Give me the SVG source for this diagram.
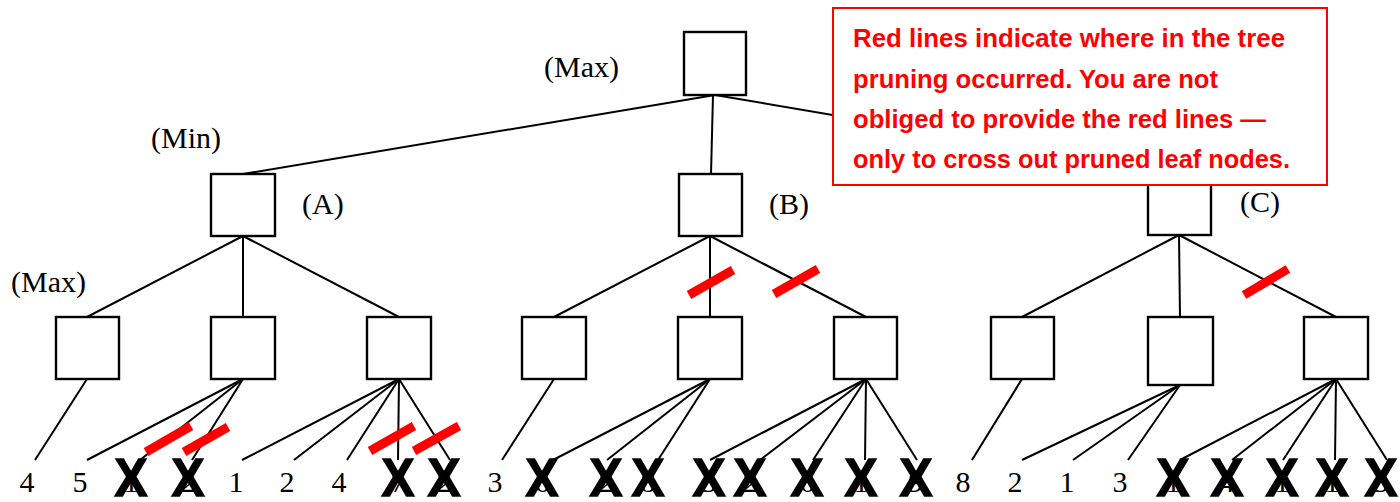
<svg xmlns="http://www.w3.org/2000/svg" width="1400" height="502" viewBox="0 0 1400 502">
<style>
.box{fill:#fff;stroke:#000;stroke-width:2.4}
.ln{stroke:#000;stroke-width:2;fill:none}
.lbl{font-family:"Liberation Serif","Times New Roman",serif;font-size:30px;fill:#000}
.leaf{font-family:"Liberation Serif","Times New Roman",serif;font-size:30px;fill:#000;text-anchor:middle}
.x{font-family:"Liberation Sans",Arial,sans-serif;font-weight:bold;font-size:54px;fill:#000;stroke:#000;stroke-width:1.5;text-anchor:middle}
.cut{stroke:#ff0000;stroke-width:9;stroke-linecap:butt}
.note{font-family:"Liberation Sans",Arial,sans-serif;font-weight:bold;font-size:25.5px;fill:#ff0000}
</style>
<rect width="1400" height="502" fill="#fff"/>
<g id="connectors" class="ln">
<line x1="715" y1="95" x2="243" y2="174"/>
<line x1="713" y1="95" x2="711" y2="174"/>
<line x1="715" y1="95" x2="1179" y2="174"/>
<line x1="243" y1="236" x2="87" y2="317"/>
<line x1="243" y1="236" x2="243" y2="317"/>
<line x1="243" y1="236" x2="399" y2="317"/>
<line x1="710" y1="236" x2="554" y2="317"/>
<line x1="710" y1="236" x2="710" y2="317"/>
<line x1="710" y1="236" x2="866" y2="317"/>
<line x1="1179" y1="235" x2="1022" y2="317"/>
<line x1="1179" y1="235" x2="1180" y2="317"/>
<line x1="1179" y1="235" x2="1336" y2="317"/>
<line x1="87" y1="379" x2="35" y2="460"/>
<line x1="243" y1="379" x2="87" y2="460"/>
<line x1="243" y1="379" x2="140" y2="460"/>
<line x1="243" y1="379" x2="192" y2="460"/>
<line x1="399" y1="379" x2="242" y2="460"/>
<line x1="399" y1="379" x2="294" y2="460"/>
<line x1="399" y1="379" x2="347" y2="460"/>
<line x1="399" y1="379" x2="398" y2="460"/>
<line x1="399" y1="379" x2="450" y2="460"/>
<line x1="554" y1="379" x2="502" y2="460"/>
<line x1="710" y1="379" x2="553" y2="460"/>
<line x1="710" y1="379" x2="607" y2="460"/>
<line x1="710" y1="379" x2="658" y2="460"/>
<line x1="866" y1="379" x2="710" y2="460"/>
<line x1="866" y1="379" x2="760" y2="460"/>
<line x1="866" y1="379" x2="813" y2="460"/>
<line x1="866" y1="379" x2="865" y2="460"/>
<line x1="866" y1="379" x2="917" y2="460"/>
<line x1="1022" y1="379" x2="972" y2="460"/>
<line x1="1180" y1="385" x2="1022" y2="460"/>
<line x1="1180" y1="385" x2="1073" y2="460"/>
<line x1="1180" y1="385" x2="1128" y2="460"/>
<line x1="1336" y1="379" x2="1180" y2="460"/>
<line x1="1336" y1="379" x2="1232" y2="460"/>
<line x1="1336" y1="379" x2="1283" y2="460"/>
<line x1="1336" y1="379" x2="1335" y2="460"/>
<line x1="1336" y1="379" x2="1387" y2="460"/>
</g>
<g id="root"><rect class="box" x="684" y="32" width="62" height="63"/><text class="lbl" x="544" y="77">(Max)</text></g>
<g id="nodeA"><rect class="box" x="211" y="174" width="64" height="62"/><text class="lbl" x="302" y="214">(A)</text><text class="lbl" x="151" y="148">(Min)</text></g>
<g id="nodeB"><rect class="box" x="679" y="174" width="63" height="62"/><text class="lbl" x="769" y="214">(B)</text></g>
<g id="nodeC"><rect class="box" x="1148" y="174" width="63" height="61"/><text class="lbl" x="1240" y="212">(C)</text></g>
<text class="lbl" x="11" y="292">(Max)</text>
<g id="nodeA1"><rect class="box" x="56" y="317" width="63" height="62"/></g>
<g id="nodeA2"><rect class="box" x="211" y="317" width="64" height="62"/></g>
<g id="nodeA3"><rect class="box" x="367" y="317" width="64" height="62"/></g>
<g id="nodeB1"><rect class="box" x="522" y="317" width="64" height="62"/></g>
<g id="nodeB2"><rect class="box" x="678" y="317" width="64" height="62"/></g>
<g id="nodeB3"><rect class="box" x="834" y="317" width="63" height="62"/></g>
<g id="nodeC1"><rect class="box" x="991" y="317" width="63" height="62"/></g>
<g id="nodeC2"><rect class="box" x="1148" y="317" width="65" height="68"/></g>
<g id="nodeC3"><rect class="box" x="1304" y="317" width="64" height="62"/></g>
<g id="leaves">
<text class="leaf" x="27" y="492">4</text>
<text class="leaf" x="80" y="492">5</text>
<text class="leaf" x="131" y="492">1</text>
<text class="leaf" x="188" y="492">2</text>
<text class="leaf" x="236" y="492">1</text>
<text class="leaf" x="287" y="492">2</text>
<text class="leaf" x="339" y="492">4</text>
<text class="leaf" x="398" y="492">7</text>
<text class="leaf" x="444" y="492">2</text>
<text class="leaf" x="495" y="492">3</text>
<text class="leaf" x="542" y="492">6</text>
<text class="leaf" x="606" y="492">2</text>
<text class="leaf" x="648" y="492">8</text>
<text class="leaf" x="709" y="492">5</text>
<text class="leaf" x="750" y="492">2</text>
<text class="leaf" x="807" y="492">6</text>
<text class="leaf" x="861" y="492">1</text>
<text class="leaf" x="916" y="492">9</text>
<text class="leaf" x="963" y="492">8</text>
<text class="leaf" x="1015" y="492">2</text>
<text class="leaf" x="1067" y="492">1</text>
<text class="leaf" x="1120" y="492">3</text>
<text class="leaf" x="1173" y="492">1</text>
<text class="leaf" x="1227" y="492">4</text>
<text class="leaf" x="1282" y="492">1</text>
<text class="leaf" x="1332" y="492">1</text>
<text class="leaf" x="1381" y="492">5</text>
</g>
<g id="cuts">
<line class="cut" x1="146" y1="452" x2="191" y2="426"/>
<line class="cut" x1="184" y1="452" x2="228" y2="427"/>
<line class="cut" x1="370" y1="451" x2="414" y2="426"/>
<line class="cut" x1="414" y1="451" x2="459" y2="426"/>
<line class="cut" x1="689" y1="295" x2="733" y2="270"/>
<line class="cut" x1="774" y1="294" x2="818" y2="269"/>
<line class="cut" x1="1244" y1="295" x2="1288" y2="269"/>
</g>
<g id="prunemarks">
<text class="x" x="131" y="496" textLength="33" lengthAdjust="spacingAndGlyphs">X</text>
<text class="x" x="188" y="496" textLength="33" lengthAdjust="spacingAndGlyphs">X</text>
<text class="x" x="398" y="496" textLength="33" lengthAdjust="spacingAndGlyphs">X</text>
<text class="x" x="444" y="496" textLength="33" lengthAdjust="spacingAndGlyphs">X</text>
<text class="x" x="542" y="496" textLength="33" lengthAdjust="spacingAndGlyphs">X</text>
<text class="x" x="606" y="496" textLength="33" lengthAdjust="spacingAndGlyphs">X</text>
<text class="x" x="648" y="496" textLength="33" lengthAdjust="spacingAndGlyphs">X</text>
<text class="x" x="709" y="496" textLength="33" lengthAdjust="spacingAndGlyphs">X</text>
<text class="x" x="750" y="496" textLength="33" lengthAdjust="spacingAndGlyphs">X</text>
<text class="x" x="807" y="496" textLength="33" lengthAdjust="spacingAndGlyphs">X</text>
<text class="x" x="861" y="496" textLength="33" lengthAdjust="spacingAndGlyphs">X</text>
<text class="x" x="916" y="496" textLength="33" lengthAdjust="spacingAndGlyphs">X</text>
<text class="x" x="1173" y="496" textLength="33" lengthAdjust="spacingAndGlyphs">X</text>
<text class="x" x="1227" y="496" textLength="33" lengthAdjust="spacingAndGlyphs">X</text>
<text class="x" x="1282" y="496" textLength="33" lengthAdjust="spacingAndGlyphs">X</text>
<text class="x" x="1332" y="496" textLength="33" lengthAdjust="spacingAndGlyphs">X</text>
<text class="x" x="1381" y="496" textLength="33" lengthAdjust="spacingAndGlyphs">X</text>
</g>
<g id="note">
<rect x="833" y="8" width="494" height="177" fill="#fff" stroke="#ff0000" stroke-width="2"/>
<text class="note" x="853" y="47" textLength="432" lengthAdjust="spacingAndGlyphs">Red lines indicate where in the tree</text>
<text class="note" x="853" y="88" textLength="365" lengthAdjust="spacingAndGlyphs">pruning occurred. You are not</text>
<text class="note" x="853" y="128" textLength="413" lengthAdjust="spacingAndGlyphs">obliged to provide the red lines —</text>
<text class="note" x="853" y="168" textLength="437" lengthAdjust="spacingAndGlyphs">only to cross out pruned leaf nodes.</text>
</g>
</svg>
